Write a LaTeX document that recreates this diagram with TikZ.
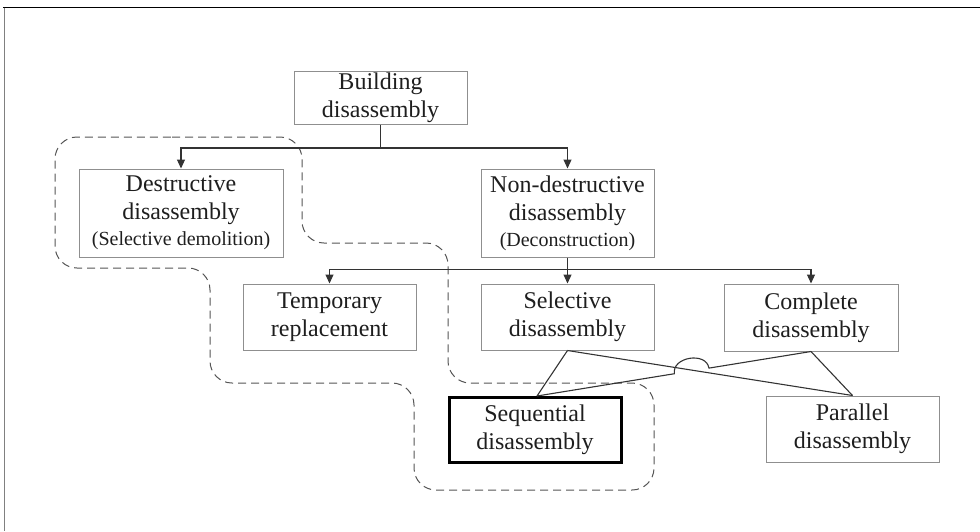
\documentclass[tikz,border=0pt]{standalone}
\usepackage{fontspec}
\setmainfont{Liberation Serif}
\usetikzlibrary{arrows.meta,calc}
\definecolor{boxgray}{HTML}{8F8F8F}
\definecolor{linec}{HTML}{333333}
\definecolor{dashc}{HTML}{555555}
\definecolor{txt}{HTML}{1E1E1E}
\newcommand{\smalltxt}{\fontsize{20}{24}\selectfont}
\begin{document}
\begin{tikzpicture}[x=1pt,y=-1pt,
  box/.style={draw=boxgray, line width=1pt, rectangle, inner sep=0pt,
    align=center, text=txt, font=\fontsize{24}{28}\selectfont,
    minimum width=173pt, minimum height=66pt},
  keybox/.style={box, draw=black, line width=3pt},
  conn/.style={draw=linec, line width=1.1pt},
  arr/.style={conn, -{Triangle[length=9pt,width=8pt]}},
  region/.style={draw=dashc, line width=1pt, dash pattern=on 8pt off 5pt,
    rounded corners=22pt}
]
\useasboundingbox (0,0) rectangle (980,531);

% frame edges
\draw[black, line width=1.2pt] (3,7.5) -- (980,7.5);
\draw[gray, line width=1pt] (4,7.5) -- (4,531);

% dashed region around the destructive / sequential path
\draw[region] (150,137) -- (302,137) -- (302,243) -- (448,243) -- (448,383)
  -- (654,383) -- (654,490) -- (414,490) -- (414,383) -- (210,383)
  -- (210,268) -- (55,268) -- (55,137) -- cycle;

% boxes
\node[box, minimum height=53pt] (build) at (380.5,97.5) {Building\\disassembly};
\node[box, minimum width=204pt, minimum height=88pt] (destr) at (181,213)
  {Destructive\\disassembly\\[-2pt]{\smalltxt (Selective demolition)}};
\node[box, minimum height=88pt] (nondestr) at (567.5,213)
  {Non-destructive\\disassembly\\[-2pt]{\smalltxt (Deconstruction)}};
\node[box] (temp) at (329.5,317) {Temporary\\replacement};
\node[box] (sel) at (567.5,317) {Selective\\disassembly};
\node[box, minimum width=174pt, minimum height=67pt] (comp) at (811,317.5) {Complete\\disassembly};
\node[keybox, minimum width=172pt, minimum height=65pt] (seq) at (535,429.5) {Sequential\\disassembly};
\node[box] (par) at (852.5,429) {Parallel\\disassembly};

% tree connectors
\draw[conn] (build.south) -- ++(0,23.5) coordinate (j1);
\draw[arr] (j1) -| (destr.north);
\draw[arr] (j1) -| (nondestr.north);
\draw[conn] (nondestr.south) -- ++(0,12) coordinate (j2);
\draw[arr] (j2) -| (temp.north);
\draw[arr] (j2) -- (sel.north);
\draw[arr] (j2) -| (comp.north);

% links to the execution modes
\coordinate (sq) at (537,396);
\draw[conn] (sel.south) -- (sq);
\draw[conn] (sel.south) -- (par.north);
\draw[conn] (comp.south) -- (par.north);
\coordinate (x) at (intersection of sel.south--par.north and comp.south--sq);
\coordinate (h1) at ($(x)!20pt!(sq)$);
\coordinate (h2) at ($(x)!15pt!(comp.south)$);
\draw[conn] (sq) -- (h1)
  .. controls ($(h1)!17pt!90:(h2)$) and ($(h2)!17pt!-90:(h1)$) .. (h2)
  -- (comp.south);
\end{tikzpicture}
\end{document}
